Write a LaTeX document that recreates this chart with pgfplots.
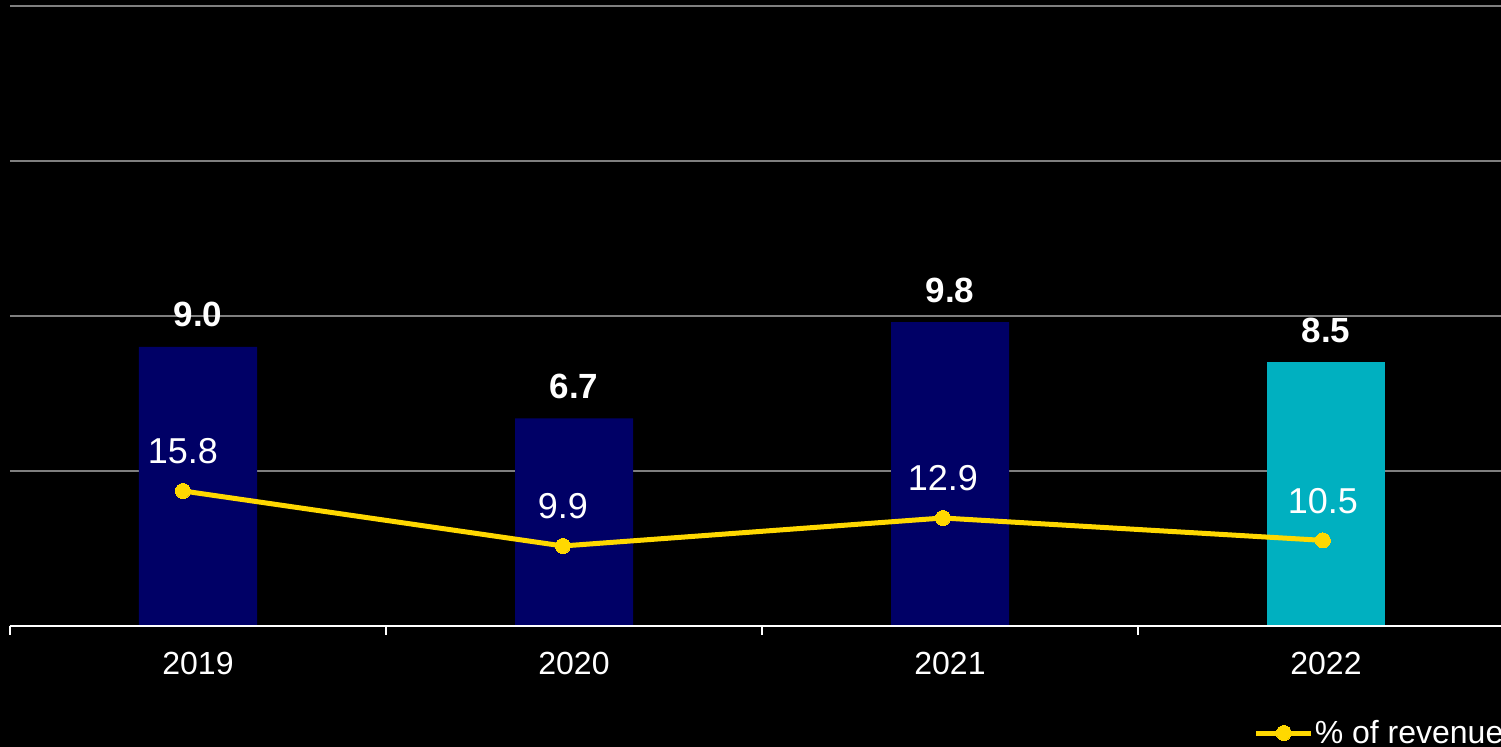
\documentclass[border=0pt]{standalone}
\usepackage{fontspec}
\setmainfont{Liberation Sans}
\usepackage{pgfplots}
\pgfplotsset{compat=1.18}
\definecolor{navy}{HTML}{000066}
\definecolor{teal2}{HTML}{00B0C0}
\definecolor{gold}{HTML}{FFD800}
\definecolor{gridgray}{HTML}{7F7F7F}
\begin{document}
\begin{tikzpicture}
\fill[black] (0,0) rectangle (750.5pt,373.5pt);
\begin{axis}[
  at={(5pt,60.5pt)}, anchor=south west,
  scale only axis, width=752pt, height=310pt,
  xmin=-0.5, xmax=3.5, ymin=0, ymax=20,
  enlargelimits=false, clip=false,
  axis lines*=left,
  y axis line style={draw=none},
  x axis line style={white, line width=1pt, -},
  ytick={0,5,10,15,20}, yticklabels={}, ytick style={draw=none},
  ymajorgrids, grid style={gridgray, line width=1pt},
  xtick={0,1,2,3}, xticklabels={2019,2020,2021,2022},
  minor xtick={-0.5,0.5,1.5,2.5,3.5},
  major x tick style={draw=none},
  minor x tick style={white, line width=1pt},
  tick align=outside, minor tick length=4.5pt, major tick length=0pt,
  xticklabel style={anchor=base, inner sep=0pt, yshift=-24.5pt, text=white, font=\fontsize{16}{19}\selectfont},
  /pgf/number format/assume math mode=true,
  ybar, bar width=59pt,
  nodes near coords={\pgfmathprintnumber[fixed,fixed zerofill,precision=1,assume math mode=true]{\pgfplotspointmeta}},
  every node near coord/.append style={text=white, font=\fontsize{17.5}{21}\selectfont\bfseries, anchor=base, inner sep=0pt, yshift=10pt},
]
\addplot[fill=navy, draw=none, bar shift=0pt] coordinates {(0,9.0) (1,6.7) (2,9.8)};
\addplot[fill=teal2, draw=none, bar shift=0pt] coordinates {(3,8.5)};
\draw[white, line width=1pt] (rel axis cs:0,0) -- (rel axis cs:1,0);
\end{axis}
\begin{axis}[
  at={(5pt,60.5pt)}, anchor=south west,
  scale only axis, width=752pt, height=310pt,
  xmin=-0.455, xmax=3.503, ymin=1.32, ymax=67.8,
  hide axis, clip=false,
  legend style={at={(0.827,-0.1726)}, anchor=west, draw=none, fill=none, inner sep=0pt, outer sep=0pt, text=white, font=\fontsize{16}{19}\selectfont, column sep=0.5pt, nodes={inner sep=0pt}},
  legend image code/.code={\draw[#1, mark repeat=2, mark phase=2] plot coordinates {(0pt,0pt) (13.75pt,0pt) (27.5pt,0pt)};},
]
\addplot[gold, line width=2.5pt, mark=*, mark size=3.75pt, mark options={fill=gold, draw=gold, line width=0pt},
  nodes near coords={\pgfmathprintnumber[fixed,fixed zerofill,precision=1,assume math mode=true]{\pgfplotspointmeta}},
  every node near coord/.append style={text=white, font=\fontsize{18}{21}\selectfont, anchor=base, inner sep=0pt, yshift=13.5pt}]
  coordinates {(0,15.8) (1,9.9) (2,12.9) (3,10.5)};
\legend{\% of revenue}
\end{axis}
\pgfresetboundingbox
\path[use as bounding box] (0,0) rectangle (750.5pt,373.5pt);
\end{tikzpicture}
\end{document}
